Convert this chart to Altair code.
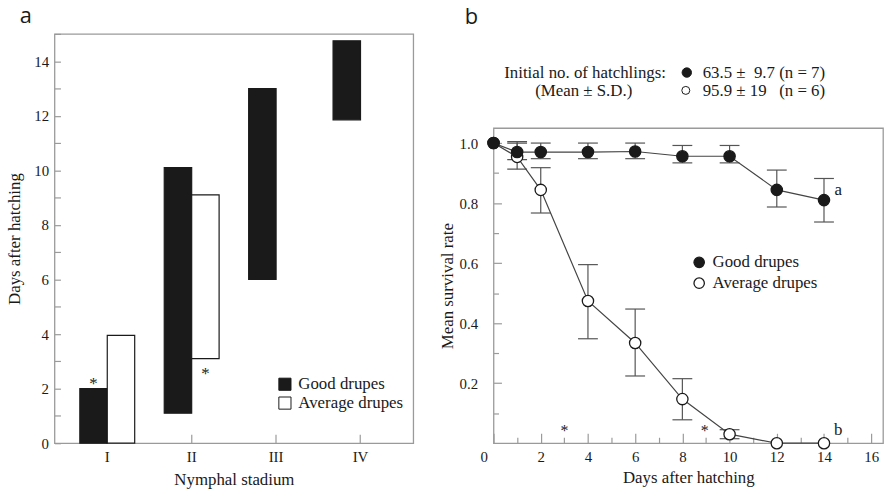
import altair as alt
import pandas as pd

# ---------------- Panel a data ----------------
stadia = ["I", "II", "III", "IV"]
series = ["Good drupes", "Average drupes"]
good_start = [0.0, 1.1, 6.0, 11.85]
good_end = [2.0, 10.1, 13.0, 14.75]
avg_stadia = ["I", "II"]
avg_start = [0.0, 3.1]
avg_end = [3.95, 9.1]
star_a_stadium = ["I", "II"]
star_a_series = ["Good drupes", "Average drupes"]
star_a_y = [2.35, 2.7]
a_tick_values = list(range(0, 16))
a_label_values = list(range(0, 16, 2))

# ---------------- Panel b data ----------------
days = [0, 1, 2, 4, 6, 8, 10, 12, 14]
good_mean = [1.0, 0.970, 0.970, 0.970, 0.972, 0.956, 0.956, 0.844, 0.810]
good_lo = [None, 0.945, 0.948, 0.948, 0.948, 0.934, 0.934, 0.787, 0.737]
good_hi = [None, 1.005, 1.0, 1.0, 1.0, 0.992, 0.992, 0.910, 0.882]
avg_mean = [1.0, 0.954, 0.844, 0.474, 0.334, 0.147, 0.030, 0.0, 0.0]
avg_lo = [None, 0.913, 0.767, 0.348, 0.224, 0.078, 0.015, None, None]
avg_hi = [None, 1.0, 0.918, 0.595, 0.447, 0.215, 0.045, None, None]
letters_text = ["a", "b"]
letters_day = [14.6, 14.6]
letters_y = [0.845, 0.043]
stars_day = [3.0, 8.95]
stars_y = [0.05, 0.05]
b_x_label_values = list(range(0, 17, 2))
b_x_tick_values = list(range(0, 17))
b_y_label_values = [0.2, 0.4, 0.6, 0.8, 1.0]
b_y_tick_values = [0.1, 0.2, 0.3, 0.4, 0.5, 0.6, 0.7, 0.8, 0.9, 1.0]
header_labels = ["Initial no. of hatchlings:", "(Mean \u00b1 S.D.)"]
header_stats = ["63.5 \u00b1\u00a0\u00a09.7 (n = 7)", "95.9 \u00b1 19\u00a0\u00a0\u00a0(n = 6)"]

INK = "#1a1a1a"
GRAY = "#9a9a9a"
SERIF = "Liberation Serif"

# ---------------- Panel a ----------------
WA, HA = 362, 413
bars_df = pd.DataFrame({
    "stadium": stadia + avg_stadia,
    "series": [series[0]] * len(stadia) + [series[1]] * len(avg_stadia),
    "start": good_start + avg_start,
    "end": good_end + avg_end,
})
stars_a_df = pd.DataFrame({"stadium": star_a_stadium, "series": star_a_series, "y": star_a_y})

xa_scale = alt.Scale(domain=stadia, paddingInner=0.35, paddingOuter=0.3)
ya_scale = alt.Scale(domain=[0, 15], nice=False)
off_scale = alt.Scale(domain=series, paddingInner=0, paddingOuter=0)

bars = alt.Chart(bars_df).mark_bar(stroke=INK, strokeWidth=1.2).encode(
    x=alt.X("stadium:N", scale=xa_scale, title="Nymphal stadium",
            axis=alt.Axis(orient="bottom", labelAngle=0, ticks=False, domain=False,
                          labelPadding=6, titlePadding=8)),
    xOffset=alt.XOffset("series:N", scale=off_scale),
    y=alt.Y("start:Q", scale=ya_scale, title="Days after hatching",
            axis=alt.Axis(orient="left", values=a_label_values, ticks=False, domain=False,
                          labelPadding=6, titlePadding=10)),
    y2="end:Q",
    fill=alt.Fill("series:N", scale=alt.Scale(domain=series, range=[INK, "white"]),
                  legend=alt.Legend(title=None, orient="none", legendX=224, legendY=345,
                                    symbolType="square", symbolSize=150,
                                    symbolStrokeColor=INK, symbolStrokeWidth=1,
                                    labelFont=SERIF, labelFontSize=17, labelColor=INK,
                                    labelOffset=5, rowPadding=1)),
)

stars_a = alt.Chart(stars_a_df).mark_text(text="*", font=SERIF, fontSize=17, color=INK,
                                          fill=INK, baseline="middle", dy=5).encode(
    x=alt.X("stadium:N", scale=xa_scale,
            axis=alt.Axis(orient="top", offset=-HA, labels=False, domain=False, ticks=True,
                          tickSize=9, tickColor=GRAY, tickWidth=1.2, title=None, minExtent=0)),
    xOffset=alt.XOffset("series:N", scale=off_scale),
    y=alt.Y("y:Q", scale=ya_scale,
            axis=alt.Axis(orient="right", offset=-WA, values=a_tick_values, labels=False,
                          domain=False, ticks=True, tickSize=6, tickColor=GRAY, tickWidth=1.2,
                          title=None, minExtent=0)),
)

panel_a = alt.layer(bars, stars_a).resolve_axis(x="independent", y="independent").properties(
    width=WA, height=HA,
    title=alt.TitleParams("a", anchor="start", frame="group", font="Open Sans", fontSize=22,
                          fontWeight="normal", color=INK, offset=5, dx=-35),
)

# ---------------- Panel b ----------------
WB, HB = 393, 318
HHEAD = 93
pts_df = pd.DataFrame({
    "day": days + days,
    "series": [series[0]] * len(days) + [series[1]] * len(days),
    "mean": good_mean + avg_mean,
    "lo": good_lo + avg_lo,
    "hi": good_hi + avg_hi,
})
err_df = pts_df.dropna(subset=["lo", "hi"])
letters_df = pd.DataFrame({"day": letters_day, "y": letters_y, "t": letters_text})
stars_b_df = pd.DataFrame({"day": stars_day, "y": stars_y})

xb_scale = alt.Scale(domain=[0, 16.5], nice=False)
yb_scale = alt.Scale(domain=[0, 1.05], nice=False)

err_rules = alt.Chart(err_df).mark_rule(color="#555555", strokeWidth=1.2).encode(
    x=alt.X("day:Q", scale=xb_scale, title="Days after hatching",
            axis=alt.Axis(orient="bottom", values=b_x_label_values, ticks=False, domain=False,
                          labelPadding=6, titlePadding=6, labelFlush=False, labelAlign="center",
                          labelOffset={"condition": {"test": "datum.value === 0", "value": -10},
                                       "value": 0})),
    y=alt.Y("lo:Q", scale=yb_scale, title="Mean survival rate",
            axis=alt.Axis(orient="left", values=b_y_label_values, format=".1f", ticks=False,
                          domain=False, labelPadding=16, titlePadding=3)),
    y2="hi:Q",
)
caps_lo = alt.Chart(err_df).mark_tick(orient="horizontal", size=20, thickness=1.2,
                                      color="#555555", opacity=1).encode(
    x=alt.X("day:Q", scale=xb_scale, axis=None),
    y=alt.Y("lo:Q", scale=yb_scale, axis=None),
)
caps_hi = alt.Chart(err_df).mark_tick(orient="horizontal", size=20, thickness=1.2,
                                      color="#555555", opacity=1).encode(
    x=alt.X("day:Q", scale=xb_scale, axis=None),
    y=alt.Y("hi:Q", scale=yb_scale, axis=None),
)
lines = alt.Chart(pts_df).mark_line(color="#444444", strokeWidth=1.2).encode(
    x=alt.X("day:Q", scale=xb_scale, axis=None),
    y=alt.Y("mean:Q", scale=yb_scale, axis=None),
    detail="series:N",
)
points = alt.Chart(pts_df).mark_point(shape="circle", filled=True, size=130, stroke=INK,
                                      strokeWidth=1.3, opacity=1).encode(
    x=alt.X("day:Q", scale=xb_scale,
            axis=alt.Axis(orient="top", offset=-HB, values=b_x_tick_values, labels=False,
                          domain=False, ticks=True, tickColor=GRAY, tickWidth=1.2,
                          tickSize={"condition": {"test": "datum.value % 2 === 0", "value": 10},
                                    "value": 6},
                          title=None, minExtent=0)),
    y=alt.Y("mean:Q", scale=yb_scale,
            axis=alt.Axis(orient="right", offset=-WB, values=b_y_tick_values, labels=False,
                          domain=False, ticks=True, tickColor=GRAY, tickWidth=1.2,
                          tickSize={"condition": {"test": "round(datum.value * 10) % 2 === 0",
                                                  "value": 8}, "value": 5},
                          title=None, minExtent=0)),
    fill=alt.Fill("series:N", scale=alt.Scale(domain=series, range=[INK, "white"]),
                  legend=alt.Legend(title=None, orient="none", legendX=199,
                                    legendY=129 + HHEAD,
                                    symbolType="circle", symbolSize=110,
                                    symbolStrokeColor=INK, symbolStrokeWidth=1.3,
                                    labelFont=SERIF, labelFontSize=17, labelColor=INK,
                                    labelOffset=5, rowPadding=3)),
    order=alt.Order("series:N", sort="ascending"),
)
letters = alt.Chart(letters_df).mark_text(font=SERIF, fontSize=17, color=INK, fill=INK,
                                          baseline="middle", align="center").encode(
    x=alt.X("day:Q", scale=xb_scale, axis=None),
    y=alt.Y("y:Q", scale=yb_scale, axis=None),
    text="t:N",
)
stars_b = alt.Chart(stars_b_df).mark_text(text="*", font=SERIF, fontSize=16, color=INK,
                                          fill=INK, baseline="middle", dy=3).encode(
    x=alt.X("day:Q", scale=xb_scale, axis=None),
    y=alt.Y("y:Q", scale=yb_scale, axis=None),
)

survival = alt.layer(
    err_rules, caps_lo, caps_hi, lines, points, letters, stars_b,
).resolve_axis(x="independent", y="independent").properties(width=WB, height=HB)

# header above panel b (its own transparent view)
one = pd.DataFrame({"k": [0]})
hdr1 = alt.Chart(one).mark_text(text=header_labels[0], font=SERIF, fontSize=17, color=INK,
                                align="right", baseline="middle").encode(
    x=alt.value(174), y=alt.value(39))
hdr2 = alt.Chart(one).mark_text(text=header_labels[1], font=SERIF, fontSize=17, color=INK,
                                align="center", baseline="middle").encode(
    x=alt.value(91), y=alt.value(58))
hdr3 = alt.Chart(one).mark_text(text=header_stats[0], font=SERIF, fontSize=17, color=INK,
                                align="left", baseline="middle").encode(
    x=alt.value(211), y=alt.value(39))
hdr4 = alt.Chart(one).mark_text(text=header_stats[1], font=SERIF, fontSize=17, color=INK,
                                align="left", baseline="middle").encode(
    x=alt.value(211), y=alt.value(58))
hdr_dot1 = alt.Chart(one).mark_point(shape="circle", filled=True, size=90, fill=INK,
                                     stroke=INK, strokeWidth=1, opacity=1).encode(
    x=alt.value(195), y=alt.value(39))
hdr_dot2 = alt.Chart(one).mark_point(shape="circle", filled=True, size=65, fill="white",
                                     stroke=INK, strokeWidth=1, opacity=1).encode(
    x=alt.value(194), y=alt.value(57))

header = alt.layer(hdr1, hdr2, hdr3, hdr4, hdr_dot1, hdr_dot2).properties(
    width=WB, height=HHEAD, view=alt.ViewBackground(stroke="transparent"),
    title=alt.TitleParams("b", anchor="start", frame="group", font="Open Sans", fontSize=22,
                          fontWeight="normal", color=INK, offset=5, dx=-29),
)

panel_b = alt.vconcat(header, survival, spacing=0)

chart = alt.hconcat(panel_a, panel_b, spacing=23).resolve_scale(
    fill="independent"
).resolve_legend(fill="independent").properties(
    padding={"left": 5, "top": 2, "right": 0, "bottom": 0}
).configure_view(stroke=GRAY, strokeWidth=1.3).configure_axis(
    labelFont=SERIF, titleFont=SERIF, labelFontSize=15, titleFontSize=17,
    labelColor=INK, titleColor=INK, titleFontWeight="normal", grid=False,
)

chart.save("out.html", embed_options={"renderer": "svg", "actions": False})
